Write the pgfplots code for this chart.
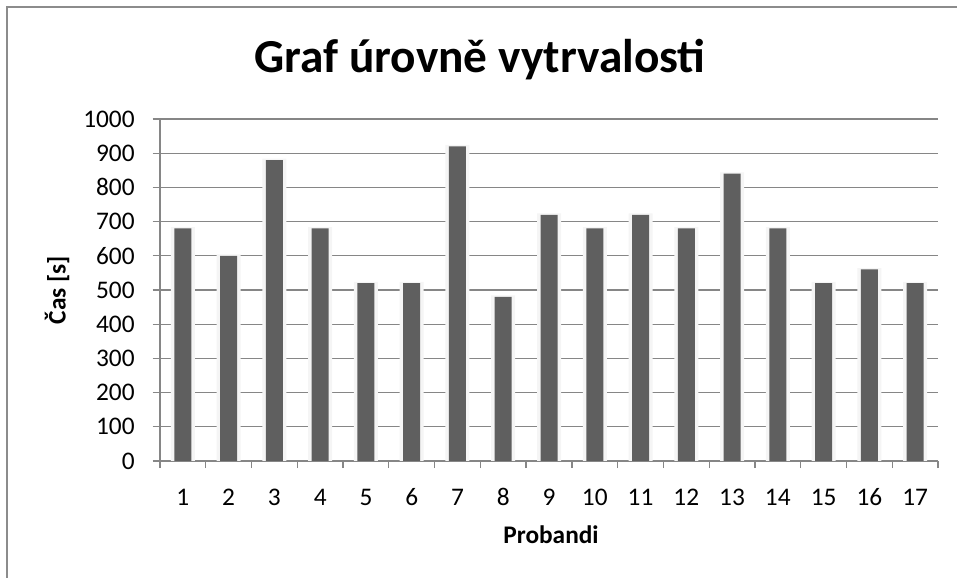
\documentclass[border=0pt]{standalone}
\usepackage{fontspec}
\setmainfont{Carlito}
\usepackage{pgfplots}
\pgfplotsset{compat=1.18}
\definecolor{barfill}{HTML}{5F5F5F}
\definecolor{gridc}{HTML}{868686}
\definecolor{framec}{HTML}{8C8C8C}

\begin{document}
\begin{tikzpicture}[x=1pt,y=1pt]
% picture bounds: 957x578 px at 0.75pt per px
\useasboundingbox (-120,-87.75) rectangle (597.75,345.75);
\draw[framec,line width=1.2pt] (-114.75,-87.75) -- (-114.75,340.5) -- (597.75,340.5);
\begin{axis}[
  at={(0,0)}, anchor=south west,
  scale only axis,
  width=583.5pt,
  height=256.5pt,
  xmin=0.5, xmax=17.5,
  ymin=0, ymax=1000,
  ytick={0,100,...,1000},
  xtick={1,...,17},
  minor xtick={0.5,1.5,...,17.5},
  axis x line*=bottom,
  axis y line*=left,
  axis line style={draw=gridc,line width=1pt,-},
  ymajorgrids,
  major grid style={draw=gridc,line width=1pt},
  tick align=outside,
  major tick length=5.5pt,
  minor tick length=5.25pt,
  x tick style={draw=none},
  y tick style={draw=gridc,line width=1pt},
  minor x tick style={draw=gridc,line width=1pt},
  /pgf/number format/assume math mode=true,
  /pgf/number format/set thousands separator={},
  tick label style={font=\fontsize{19}{22}\selectfont,text=black},
  xticklabel style={text height=12pt,text depth=0pt,yshift=-12pt},
  yticklabel style={xshift=-10pt},
  clip=false,
]
\addplot[ybar,bar width=18pt,bar shift=0pt,fill=black!4,draw=none] coordinates {
  (1,684) (2,604) (3,884) (4,684) (5,524) (6,524) (7,924) (8,484) (9,724)
  (10,684) (11,724) (12,684) (13,844) (14,684) (15,524) (16,564) (17,524)
};
\addplot[ybar,bar width=12.75pt,bar shift=0pt,fill=barfill,draw=none] coordinates {
  (1,680) (2,600) (3,880) (4,680) (5,520) (6,520) (7,920) (8,480) (9,720)
  (10,680) (11,720) (12,680) (13,840) (14,680) (15,520) (16,560) (17,520)
};
\end{axis}
\node[anchor=base,font=\fontsize{35.5}{40}\selectfont\bfseries] at (240,291) {Graf úrovně vytrvalosti};
\node[rotate=90,font=\fontsize{19}{22}\selectfont\bfseries] at (-77.25,128.25) {Čas [s]};
\node[font=\fontsize{19}{22}\selectfont\bfseries] at (293.25,-55.5) {Probandi};
\end{tikzpicture}
\end{document}
